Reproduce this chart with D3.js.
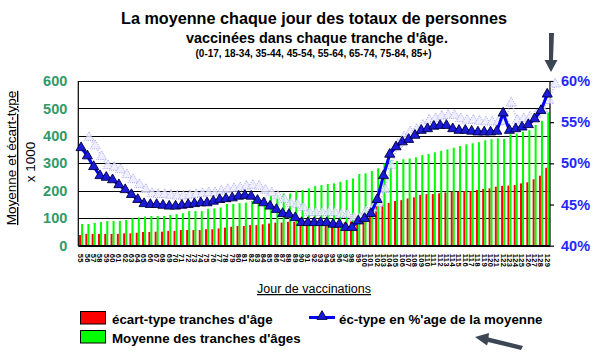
<!DOCTYPE html>
<html><head><meta charset="utf-8">
<script src="https://cdnjs.cloudflare.com/ajax/libs/d3/7.8.5/d3.min.js"></script>
<style>
body{margin:0;background:#fff}
svg{display:block;font-family:"Liberation Sans",Arial,sans-serif}
</style></head><body>
<svg id="c" width="600" height="358"></svg>
<script>
// ---- data ----
const days = [55,56,57,58,59,60,61,62,63,64,65,66,67,68,69,70,71,72,73,74,75,76,77,78,79,80,81,82,83,84,85,86,87,88,89,90,91,92,93,94,95,96,97,98,99,100,101,102,103,104,105,106,107,108,109,110,111,112,113,114,115,116,117,118,119,120,121,122,123,124,125,126,127,128,129];
const meanVals = [79,79,83,86,90,90,90,94,100,103,106,108,108,108,112,115,118,126,126,126,134,136,139,152,152,155,157,163,170,176,181,185,190,190,199,203,209,217,221,225,227,233,239,245,261,264,272,282,300,310,309,315,318,322,330,334,340,345,351,357,363,369,373,377,384,388,391,389,406,409,415,421,440,455,485];
const stdVals = [39,43,43,43,43,43,43,45,45,47,50,50,51,51,54,54,57,57,57,57,60,60,63,66,69,72,72,75,75,78,81,84,84,87,87,84,85,86,86,86,86,86,85,88,96,112,130,146,150,156,163,166,172,176,185,188,188,191,194,197,197,199,199,203,207,209,215,218,219,221,227,231,242,255,284];
const pctVals = [51.9,50.9,49.6,48.5,48.3,48.0,47.4,46.8,46.2,45.6,45.1,45.0,45.0,44.9,44.8,44.8,44.9,45.0,45.1,45.2,45.2,45.4,45.6,45.7,45.8,46.0,46.1,46.0,45.5,45.2,44.8,44.4,43.9,43.8,43.4,42.8,42.8,42.8,42.8,42.8,42.6,42.6,42.2,42.2,43.0,43.3,43.9,45.6,48.5,51.1,52.0,52.6,52.9,53.4,54.0,54.2,54.5,54.6,54.6,54.2,54.0,54.0,53.9,53.8,53.8,53.8,53.9,56.1,54.0,54.2,54.4,54.7,55.4,56.4,58.4];
const leftTicks = [0,100,200,300,400,500,600];
const rightTicks = [40,45,50,55,60];
const seriesNames = ["écart-type tranches d'âge","Moyenne des tranches d'âges","éc-type en %'age de la moyenne"];
const titleLines = ["La moyenne chaque jour des totaux de personnes","vaccinées dans chaque tranche d'âge.","(0-17, 18-34, 35-44, 45-54, 55-64, 65-74, 75-84, 85+)"];

// ---- layout ----
const svg = d3.select("#c");
svg.append("rect").attr("width",600).attr("height",358).attr("fill","#fff");
const L=78.3, R=550, T=81, B=245.7;
const x = d3.scaleBand(days,[L,R]).paddingInner(0.36).paddingOuter(0.12);
const x1 = d3.scaleBand(["std","mean"],[0,x.bandwidth()]);
const yL = d3.scaleLinear([0,600],[B,T]);
const yR = d3.scaleLinear([40,60],[B,T]);
const xc = d => x(d)+x.bandwidth()/2;

// title
const tl = svg.append("g").attr("text-anchor","middle").attr("font-weight","bold").attr("fill","#000");
tl.append("text").attr("x",314).attr("y",24).attr("font-size",16.2).text(titleLines[0]);
tl.append("text").attr("x",317).attr("y",43).attr("font-size",14.4).text(titleLines[1]);
tl.append("text").attr("x",313.5).attr("y",56.5).attr("font-size",10).text(titleLines[2]);

// gridlines
svg.append("g").selectAll("line").data(leftTicks).join("line")
  .attr("x1",L).attr("x2",R).attr("y1",d=>Math.round(yL(d))+0.5).attr("y2",d=>Math.round(yL(d))+0.5)
  .attr("stroke","#000").attr("stroke-width",1.2);

// bars
const bars = svg.append("g");
bars.selectAll(".r").data(days).join("rect")
  .attr("x",(d,i)=>x(d)+x1("std")).attr("width",x1.bandwidth())
  .attr("y",(d,i)=>yL(stdVals[i])).attr("height",(d,i)=>B-yL(stdVals[i])).attr("fill","#ff0000");
bars.selectAll(".g").data(days).join("rect")
  .attr("x",(d,i)=>x(d)+x1("mean")).attr("width",x1.bandwidth())
  .attr("y",(d,i)=>yL(meanVals[i])).attr("height",(d,i)=>B-yL(meanVals[i])).attr("fill","#00ff00");

// axes lines
svg.append("line").attr("x1",L).attr("x2",L).attr("y1",T).attr("y2",B).attr("stroke","#000").attr("stroke-width",1.2);
svg.append("line").attr("x1",R).attr("x2",R).attr("y1",T).attr("y2",B).attr("stroke","#000").attr("stroke-width",1.2);
svg.append("line").attr("x1",L).attr("x2",R).attr("y1",B).attr("y2",B).attr("stroke","#000").attr("stroke-width",1.5);

// left axis labels
const axL = svg.append("g").attr("transform",`translate(${L},0)`)
  .call(d3.axisLeft(yL).tickValues(leftTicks).tickSize(0).tickPadding(11));
axL.select(".domain").remove();
axL.selectAll("text").attr("font-family","Liberation Sans, Arial, sans-serif").attr("font-size",14.5)
  .attr("font-weight","bold").attr("fill","#2f9a6c");

// right axis
const axR = svg.append("g").attr("transform",`translate(${R},0)`)
  .call(d3.axisRight(yR).tickValues(rightTicks).tickSize(4).tickPadding(7).tickFormat(d=>d+"%"));
axR.select(".domain").remove();
axR.selectAll("line").attr("stroke","#000").attr("stroke-width",1.2);
axR.selectAll("text").attr("font-family","Liberation Sans, Arial, sans-serif").attr("font-size",14.5)
  .attr("font-weight","bold").attr("fill","#2626ff");

// x tick labels (rotated)
svg.append("g").selectAll("text").data(days).join("text")
  .attr("transform",d=>`translate(${xc(d)},${B+8}) rotate(90)`)
  .attr("dy","0.35em").attr("font-size",7.5).attr("font-weight","bold").attr("letter-spacing",0.4)
  .attr("fill","#000").text(d=>d);

// line series
const line = d3.line().x((d,i)=>xc(days[i])).y(d=>yR(d));
const tri = d3.symbol().type(d3.symbolTriangle).size(44);
// soft shadow copy
const sh = svg.append("g").attr("transform","translate(8,-10)").attr("opacity",0.8);
sh.append("path").datum(pctVals).attr("d",line).attr("fill","none").attr("stroke","#b8b8f6")
  .attr("stroke-width",2.2).attr("stroke-dasharray","1,1.5");
sh.selectAll("path.t").data(pctVals).join("path").attr("class","t")
  .attr("transform",(d,i)=>`translate(${xc(days[i])},${yR(d)})`).attr("d",tri)
  .attr("fill","#eaeaff").attr("stroke","#9090ee").attr("stroke-width",1).attr("stroke-dasharray","1,1.2");
svg.append("path").datum(pctVals).attr("d",line).attr("fill","none").attr("stroke","#0000ff").attr("stroke-width",3);
svg.append("g").selectAll("path").data(pctVals).join("path")
  .attr("transform",(d,i)=>`translate(${xc(days[i])},${yR(d)})`).attr("d",tri)
  .attr("fill","#1a1ad8").attr("stroke","#000040").attr("stroke-width",0.9);

// axis titles
svg.append("text").attr("transform","translate(16,158) rotate(-90)").attr("text-anchor","middle")
  .attr("font-size",13.5).attr("text-decoration","underline").attr("fill","#000").text("Moyenne et écart-type");
svg.append("text").attr("transform","translate(35,162) rotate(-90)").attr("text-anchor","middle")
  .attr("font-size",13.5).attr("fill","#000").text("x 1000");
svg.append("text").attr("x",314).attr("y",293).attr("text-anchor","middle").attr("font-size",12.5)
  .attr("text-decoration","underline").attr("fill","#000").text("Jour de vaccinations");

// legend
const lg = svg.append("g").attr("font-size",13.3).attr("font-weight","bold").attr("fill","#000");
lg.append("rect").attr("x",80.5).attr("y",311.5).attr("width",25).attr("height",12.5).attr("fill","#ff0000").attr("stroke","#000").attr("stroke-width",1);
lg.append("text").attr("x",112).attr("y",324).text(seriesNames[0]);
lg.append("rect").attr("x",80.5).attr("y",330.5).attr("width",25).attr("height",12.5).attr("fill","#00ff00").attr("stroke","#000").attr("stroke-width",1);
lg.append("text").attr("x",112).attr("y",343).text(seriesNames[1]);
lg.append("line").attr("x1",309).attr("x2",335).attr("y1",317.5).attr("y2",317.5).attr("stroke","#0000ff").attr("stroke-width",3);
lg.append("path").attr("transform","translate(322,316.5)").attr("d",tri).attr("fill","#1a1ad8").attr("stroke","#000040").attr("stroke-width",0.9);
lg.append("text").attr("x",339).attr("y",324).text(seriesNames[2]);

// decorative arrows
const arrowCol = "#3c4654";
svg.append("path").attr("d","M549,33 L554,33 L553,60 L557.5,60 L551,72 L544.5,60 L549,60 Z").attr("fill",arrowCol);
svg.append("path").attr("d","M523,346 L521,350 L488,342 L487,345.5 L475,337 L489,333 L488.5,337.5 Z").attr("fill",arrowCol);
</script>
</body></html>
